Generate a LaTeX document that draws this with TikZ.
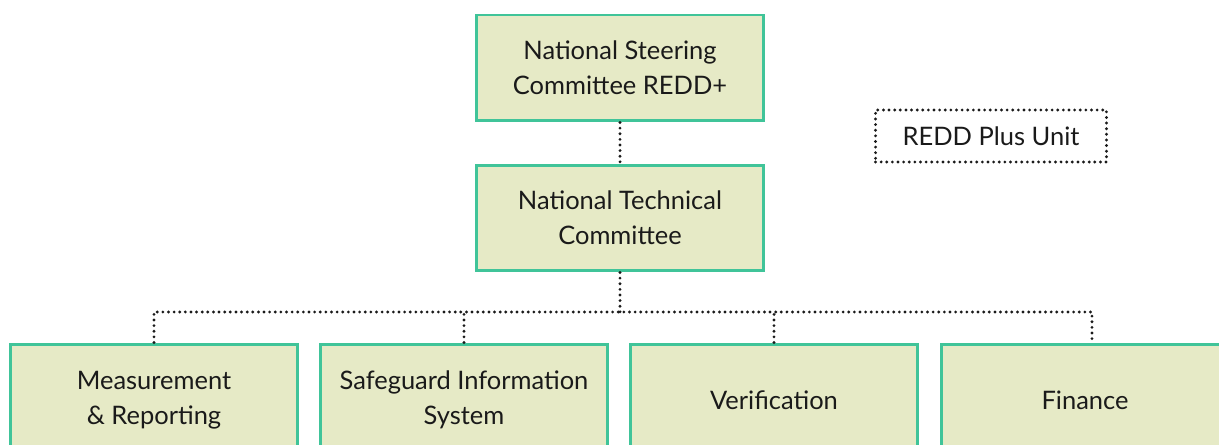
\documentclass[tikz,border=0pt]{standalone}
\usepackage{fontspec}
\setmainfont{Lato}
\usepackage{xcolor}
\usepackage{tikz}
\definecolor{boxline}{RGB}{64,196,153}
\definecolor{boxfill}{RGB}{230,234,198}
\definecolor{ink}{RGB}{26,26,26}

\begin{document}
\begin{tikzpicture}[x=0.02cm,y=-0.02cm,
	cbox/.style={draw=boxline,fill=boxfill,line width=1.7pt,minimum width=5.74cm,
		minimum height=2.12cm,align=center,text=ink,font=\fontsize{14.5}{20}\selectfont},
	unitbox/.style={cbox,draw=ink,fill=none,line width=1.8pt,line cap=round,
		dash pattern=on 0pt off 3.2pt,minimum width=4.62cm,minimum height=1.04cm},
	link/.style={draw=ink,line width=1.8pt,line cap=round,dash pattern=on 0pt off 3.2pt}]
	\useasboundingbox (0,0) rectangle (1219,445);
	\clip (0,0) rectangle (1219,445);
	%
	\node[cbox] (nsc) at (620,68) {National Steering\\Committee REDD+};
	\node[cbox] (ntc) at (620,218) {National Technical\\Committee};
	\node[unitbox] (rpu) at (991,136) {REDD Plus Unit};
	%
	\node[cbox,minimum height=2.24cm] (mr) at (154,400) {Measurement\\\& Reporting};
	\node[cbox,minimum height=2.24cm] (sis) at (464,400) {Safeguard Information\\System};
	\node[cbox,minimum height=2.24cm] (ver) at (774,400) {Verification};
	\node[cbox,minimum height=2.24cm] (fin) at (1085,400) {Finance};
	%
	\coordinate (bus) at (620,312);
	\draw[link] (nsc) -- (ntc);
	\draw[link] (ntc) -- (bus);
	\draw[link] (mr.north) |- (bus) -| ([xshift=0.14cm]fin.north);
	\draw[link] (sis.north) -- (sis.north |- bus);
	\draw[link] (ver.north) -- (ver.north |- bus);
\end{tikzpicture}
\end{document}
